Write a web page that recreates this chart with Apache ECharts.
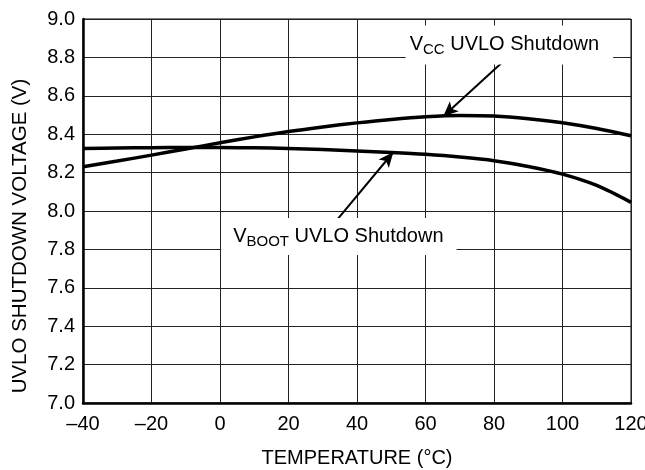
<!DOCTYPE html>
<html>
<head>
<meta charset="utf-8">
<script src="https://cdn.jsdelivr.net/npm/echarts@6/dist/echarts.min.js"></script>
<style>
  html, body { margin: 0; padding: 0; background: #fff; }
  #chart { width: 645px; height: 470px; }
</style>
</head>
<body>
<div id="chart"></div>
<script>
// temperature (°C)
const temps = [-40, -30, -20, -10, 0, 10, 20, 30, 40, 50, 60, 70, 80, 90, 100, 110, 120];
// UVLO shutdown voltage (V)
const vccShutdown = [8.230, 8.260, 8.291, 8.323, 8.355, 8.386, 8.414, 8.438, 8.459, 8.477, 8.491, 8.498, 8.495, 8.481, 8.460, 8.430, 8.392];
const vbootShutdown = [8.325, 8.328, 8.330, 8.331, 8.331, 8.329, 8.326, 8.320, 8.313, 8.305, 8.295, 8.281, 8.262, 8.232, 8.192, 8.133, 8.045];

// annotations: label anchor and arrow (tail -> head) in data units
const vccLabel = { x: 84.5, y: 8.865 };
const vccArrow = [[83.8, 8.797], [65.2, 8.493]];
const vbootLabel = { x: 34.7, y: 7.867 };
const vbootArrow = [[34.1, 7.953], [50.6, 8.306]];

const font = 'Liberation Sans, Arial, sans-serif';

function pairs(xs, ys) {
    return xs.map((x, i) => [x, ys[i]]);
}

function note(text, sub, pad) {
    return {
        show: true,
        position: 'inside',
        formatter: '{v|V}{s|' + sub + '}{t| ' + text + '}',
        backgroundColor: '#fff',
        padding: pad,
        rich: {
            v: { fontSize: 20, fontFamily: font, color: '#000' },
            s: { fontSize: 15, fontFamily: font, color: '#000', padding: [10, 0, 0, 0] },
            t: { fontSize: 20, fontFamily: font, color: '#000' }
        }
    };
}

function arrow(a) {
    return {
        silent: true,
        symbol: ['none', 'arrow'],
        symbolSize: [10, 15],
        label: { show: false },
        lineStyle: { color: '#000', width: 2, type: 'solid' },
        data: [[{ coord: a[0] }, { coord: a[1] }]]
    };
}

const chart = echarts.init(document.getElementById('chart'));

const option = {
    animation: false,
    backgroundColor: '#fff',
    grid: {
        left: 83, right: 14, top: 19, bottom: 67,
        outerBoundsMode: 'none',
        containLabel: false,
        show: true, borderColor: '#000', borderWidth: 1
    },
    xAxis: {
        type: 'value',
        min: -40, max: 120, interval: 20,
        name: 'TEMPERATURE (°C)',
        nameLocation: 'middle',
        nameGap: 45,
        nameTextStyle: { color: '#000', fontSize: 20, fontFamily: font },
        axisLine: { show: true, onZero: false, lineStyle: { color: '#000', width: 2.5 } },
        axisTick: { show: false },
        splitLine: { show: true, lineStyle: { color: '#222', width: 1 } },
        axisLabel: {
            color: '#000', fontSize: 20, fontFamily: font, margin: 11,
            formatter: v => String(v).replace('-', '\u2013')
        }
    },
    yAxis: {
        type: 'value',
        min: 7.0, max: 9.0, interval: 0.2,
        name: 'UVLO SHUTDOWN VOLTAGE (V)',
        nameLocation: 'middle',
        nameGap: 52,
        nameTextStyle: { color: '#000', fontSize: 20.5, fontFamily: font, padding: [0, 50, 0, 0] },
        axisLine: { show: true, onZero: false, lineStyle: { color: '#000', width: 2.5 } },
        axisTick: { show: false },
        splitLine: { show: true, lineStyle: { color: '#222', width: 1 } },
        axisLabel: {
            color: '#000', fontSize: 20, fontFamily: font, margin: 8,
            formatter: v => v.toFixed(1)
        }
    },
    series: [
        {
            name: 'VCC UVLO Shutdown',
            type: 'line',
            data: pairs(temps, vccShutdown),
            smooth: 0.3,
            showSymbol: false,
            lineStyle: { color: '#000', width: 3.5 },
            z: 3,
            markLine: arrow(vccArrow),
            markPoint: {
                silent: true,
                symbol: 'circle',
                symbolSize: 1,
                itemStyle: { color: 'rgba(0,0,0,0)' },
                data: [{ coord: [vccLabel.x, vccLabel.y] }],
                label: note('UVLO Shutdown', 'CC', [7, 14, 7, 4])
            }
        },
        {
            name: 'VBOOT UVLO Shutdown',
            type: 'line',
            data: pairs(temps, vbootShutdown),
            smooth: 0.3,
            showSymbol: false,
            lineStyle: { color: '#000', width: 3.5 },
            z: 3,
            markLine: arrow(vbootArrow),
            markPoint: {
                silent: true,
                symbol: 'circle',
                symbolSize: 1,
                itemStyle: { color: 'rgba(0,0,0,0)' },
                data: [{ coord: [vbootLabel.x, vbootLabel.y] }],
                label: note('UVLO Shutdown', 'BOOT', [6, 13, 6, 12])
            }
        }
    ]
};

chart.setOption(option);
</script>
</body>
</html>
